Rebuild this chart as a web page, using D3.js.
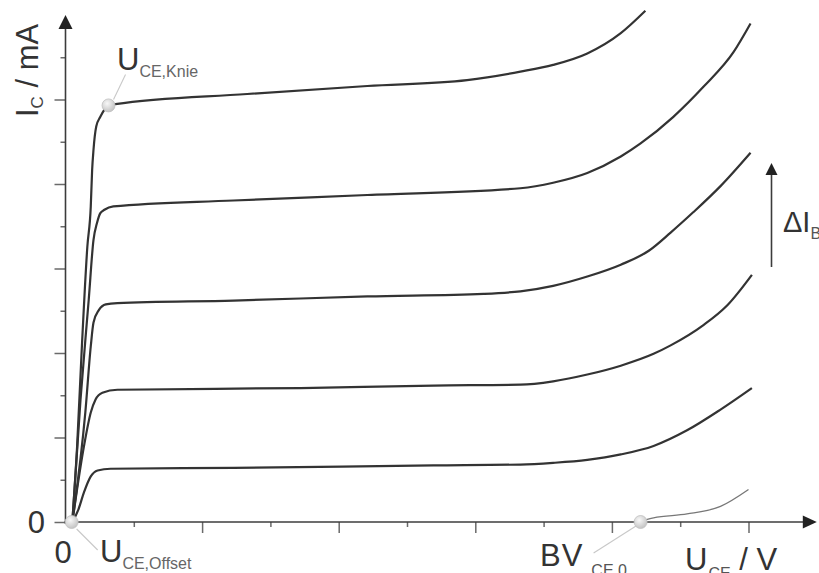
<!DOCTYPE html>
<html>
<head>
<meta charset="utf-8">
<script src="https://cdn.jsdelivr.net/npm/d3@7"></script>
<style>
  body { margin: 0; background: #fff; }
  svg { display: block; }
  text { font-family: "Liberation Sans", Arial, sans-serif; }
</style>
</head>
<body>
<div id="target"></div>
<script>
// output characteristic I_C(U_CE), one curve per base current, [U_CE, I_C]
let curveIb5 = [[0.10, 0], [0.17, 1.79], [0.24, 4.16], [0.32, 6.52], [0.37, 7.47], [0.39, 8.33], [0.41, 8.81],
    [0.45, 9.36], [0.51, 9.59], [0.63, 9.85], [0.73, 9.89], [2.66, 10.13], [4.42, 10.32], [5.88, 10.46],
    [6.66, 10.66], [7.14, 10.82], [7.64, 11.09], [8.13, 11.57], [8.49, 12.1]]
let curveIb4 = [[0.10, 0], [0.22, 2.9], [0.34, 5.26], [0.41, 6.68], [0.46, 7.07], [0.51, 7.31], [0.57, 7.39],
    [0.70, 7.47], [2.46, 7.61], [4.42, 7.74], [6.66, 7.90], [7.14, 8.03], [7.64, 8.26], [8.13, 8.65],
    [8.42, 8.96], [8.90, 9.59], [9.34, 10.30], [9.78, 11.12], [10.03, 11.80]]
let curveIb3 = [[0.10, 0], [0.29, 2.59], [0.37, 4.16], [0.41, 4.72], [0.49, 5.02], [0.59, 5.15], [0.76, 5.18],
    [2.46, 5.24], [4.42, 5.34], [6.12, 5.40], [6.66, 5.46], [7.14, 5.59], [7.64, 5.81], [8.13, 6.09],
    [8.54, 6.42], [8.86, 6.85], [9.19, 7.33], [9.59, 7.95], [10.03, 8.74]]
let curveIb2 = [[0.10, 0], [0.27, 1.79], [0.37, 2.59], [0.44, 2.90], [0.54, 3.06], [0.76, 3.13], [3.44, 3.17],
    [5.39, 3.23], [6.66, 3.25], [7.14, 3.33], [7.64, 3.49], [8.13, 3.70], [8.61, 3.98], [8.86, 4.18],
    [9.34, 4.66], [9.69, 5.13], [10.05, 5.85]]
let curveIb1 = [[0.10, 0], [0.19, 0.30], [0.27, 0.70], [0.37, 1.08], [0.47, 1.22], [0.66, 1.26], [2.46, 1.28],
    [5.39, 1.34], [6.66, 1.36], [7.14, 1.40], [7.64, 1.47], [8.13, 1.60], [8.61, 1.80], [9.10, 2.17],
    [9.59, 2.66], [10.05, 3.17]]
// I_B = 0, breakdown part only
let curveIb0 = [[8.42, 0.02], [8.61, 0.10], [9.10, 0.19], [9.59, 0.37], [10.0, 0.77]]

let xTicksMajor = [2, 4, 6, 8, 10]
let xTicksMinor = [1, 3, 5, 7, 9]
let yTicksMajor = [0, 2, 4, 6, 8, 10]
let yTicksMinor = [1, 3, 5, 7, 9, 11]

// marked points [U_CE, I_C]
let kneePoint = [0.63, 9.86]
let offsetPoint = [0.09, 0]
let bvPoint = [8.42, 0]

let width = 819, height = 573
let svg = d3.select("#target").append("svg").attr("width", width).attr("height", height)

let x = d3.scaleLinear().domain([0, 11]).range([65.5, 816.8])
let y = d3.scaleLinear().domain([0, 12]).range([522, 15])

let axisColor = "#3c3c3c"
let tickColor = "#6a6a6a"

// gradient for the marker balls
let defs = svg.append("defs")
let grad = defs.append("radialGradient").attr("id", "ball").attr("cx", "40%").attr("cy", "35%").attr("r", "65%")
grad.append("stop").attr("offset", "0%").attr("stop-color", "#f8f8f8")
grad.append("stop").attr("offset", "100%").attr("stop-color", "#c4c4c4")

// ticks
let tickGroup = (axis, vals, size, transform) => {
    let g = svg.append("g").attr("transform", transform)
        .call(axis.tickValues(vals).tickSize(size).tickFormat(""))
    g.select(".domain").remove()
    g.selectAll(".tick line").attr("stroke", tickColor).attr("stroke-width", 1.5)
    return g
}
tickGroup(d3.axisLeft(y), yTicksMajor, 11, `translate(${x(0)},0)`)
tickGroup(d3.axisLeft(y), yTicksMinor, 5, `translate(${x(0)},0)`)
tickGroup(d3.axisBottom(x), xTicksMajor, 11, `translate(0,${y(0)})`)
tickGroup(d3.axisBottom(x), xTicksMinor, 5, `translate(0,${y(0)})`)

// axis lines with arrow heads
svg.append("line").attr("x1", x(0)).attr("x2", x(0)).attr("y1", y(0) + 2).attr("y2", y(12) + 10)
    .attr("stroke", axisColor).attr("stroke-width", 1.6)
svg.append("path").attr("d", `M${x(0)},${y(12)} l-7,14 l14,0 z`).attr("fill", "#222")
svg.append("line").attr("x1", x(0) - 1).attr("x2", x(11) - 10).attr("y1", y(0)).attr("y2", y(0))
    .attr("stroke", axisColor).attr("stroke-width", 1.6)
svg.append("path").attr("d", `M${x(11)},${y(0)} l-14,-6.5 l0,13 z`).attr("fill", "#222")

// curves
let line = d3.line().x(d => x(d[0])).y(d => y(d[1])).curve(d3.curveMonotoneX)
let curves = [curveIb1, curveIb2, curveIb3, curveIb4, curveIb5]
svg.append("g").selectAll("path").data(curves).enter().append("path")
    .attr("d", line)
    .attr("fill", "none")
    .attr("stroke", "#333")
    .attr("stroke-width", 2.2)
    .attr("stroke-linejoin", "round")
svg.append("path").attr("d", line(curveIb0)).attr("fill", "none")
    .attr("stroke", "#777").attr("stroke-width", 1.3)

// leader lines and marker balls
let leaders = [
    [kneePoint, 5, -6, 17, -31],
    [offsetPoint, 5, 7, 26, 28],
    [bvPoint, -3, 3, -47, 31]
]
svg.append("g").selectAll("line").data(leaders).enter().append("line")
    .attr("x1", d => x(d[0][0]) + d[1]).attr("y1", d => y(d[0][1]) + d[2])
    .attr("x2", d => x(d[0][0]) + d[3]).attr("y2", d => y(d[0][1]) + d[4])
    .attr("stroke", "#c8c8c8").attr("stroke-width", 1.1)
svg.append("g").selectAll("circle").data([kneePoint, offsetPoint, bvPoint]).enter().append("circle")
    .attr("cx", d => x(d[0])).attr("cy", d => y(d[1])).attr("r", 6.5)
    .attr("fill", "url(#ball)").attr("stroke", "#c0c0c0").attr("stroke-width", 0.8)

// labels
let label = (px, py, main, sub, rest, opts = {}) => {
    let size = opts.size || 31
    let subDy = opts.subDy || 6.5
    let t = svg.append("text").attr("x", px).attr("y", py)
        .attr("font-size", size).attr("fill", "#333")
    if (opts.rotate) t.attr("transform", `rotate(-90,${px},${py})`)
    if (opts.anchor) t.attr("text-anchor", opts.anchor)
    let m = t.append("tspan").text(main)
    if (opts.spacing) m.attr("letter-spacing", opts.spacing)
    if (sub) {
        t.append("tspan").attr("font-size", opts.subSize || 16).attr("fill", opts.subFill || "#666")
            .attr("dx", opts.subDx || 0).attr("dy", subDy).text(sub)
    }
    if (rest) {
        t.append("tspan").attr("dy", -subDy).text(rest)
    }
    return t
}

label(38, 117, "I", "C", " / mA", { rotate: true, subSize: 17, subFill: "#444", subDy: 5 })
label(117, 70, "U", "CE,Knie", null)
label(45, 533, "0", null, null, { anchor: "end" })
label(63, 563, "0", null, null, { anchor: "middle" })
label(100, 562, "U", "CE,Offset", null)
label(540, 565.5, "BV", "CE,0", null, { subFill: "#555", spacing: 1, subDx: 8, subDy: 10.5 })
label(685, 569.5, "U", "CE", " / V", { subFill: "#555", subDy: 9.5, subDx: 1 })
label(783, 232, "\u0394I", "B", null, { size: 29, subFill: "#555" })

// Delta I_B arrow
svg.append("line").attr("x1", 771.5).attr("x2", 771.5).attr("y1", 267).attr("y2", 172)
    .attr("stroke", axisColor).attr("stroke-width", 1.6)
svg.append("path").attr("d", "M771.5,163 l-6,12 l12,0 z").attr("fill", "#222")
</script>
</body>
</html>
